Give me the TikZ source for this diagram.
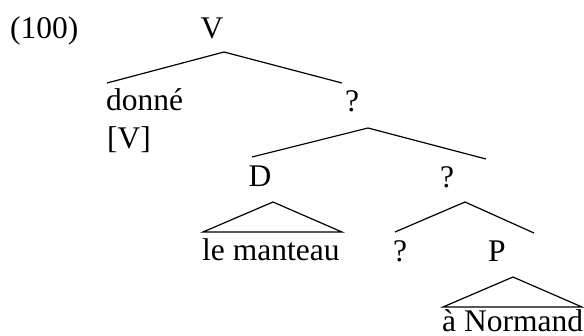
\documentclass[tikz,border=0pt]{standalone}
\usepackage{fontspec}
\setmainfont{Liberation Serif}
\begin{document}
\begin{tikzpicture}[x=1pt,y=-1pt,
  lbl/.style={inner sep=0pt,anchor=base,font=\fontsize{31.5}{36}\selectfont},
  lblw/.style={lbl,anchor=base west},
  edge/.style={line width=1.2pt,line join=miter}]
\useasboundingbox (0,0) rectangle (584,335);
% labels
\node[lblw] (ex) at (10,38) {(100)};
\node[lbl] (V) at (212,38) {V};
\node[lblw] (donne) at (106,110) {donné};
\node[lblw] (Vcat) at (107,148) {[V]};
\node[lbl] (q1) at (352,111) {?};
\node[lbl] (D) at (260,186) {D};
\node[lbl] (q2) at (447,187) {?};
\node[lblw] (lm) at (202,260) {le manteau};
\node[lbl] (q3) at (400,261) {?};
\node[lbl] (P) at (497,261) {P};
\node[lblw] (an) at (442,331) {à Normand};
% branch points
\coordinate (Va) at (224,52);
\coordinate (Vl) at (107,83);
\coordinate (Vr) at (342,83);
\coordinate (q1a) at (368,128);
\coordinate (q1l) at (252,157);
\coordinate (q1r) at (486,159);
\coordinate (Da) at (273,202);
\coordinate (Dl) at (203,232);
\coordinate (Dr) at (342,232);
\coordinate (q2a) at (465,202);
\coordinate (q2l) at (395,232);
\coordinate (q2r) at (534,233);
\coordinate (Pa) at (513,277);
\coordinate (Pl) at (443,307);
\coordinate (Pr) at (582,307);
% connectors
\draw[edge] (Vl) -- (Va) -- (Vr);
\draw[edge] (q1l) -- (q1a) -- (q1r);
\draw[edge] (Dl) -- (Da) -- (Dr) -- cycle;
\draw[edge] (q2l) -- (q2a) -- (q2r);
\draw[edge] (Pl) -- (Pa) -- (Pr) -- cycle;
\end{tikzpicture}
\end{document}
